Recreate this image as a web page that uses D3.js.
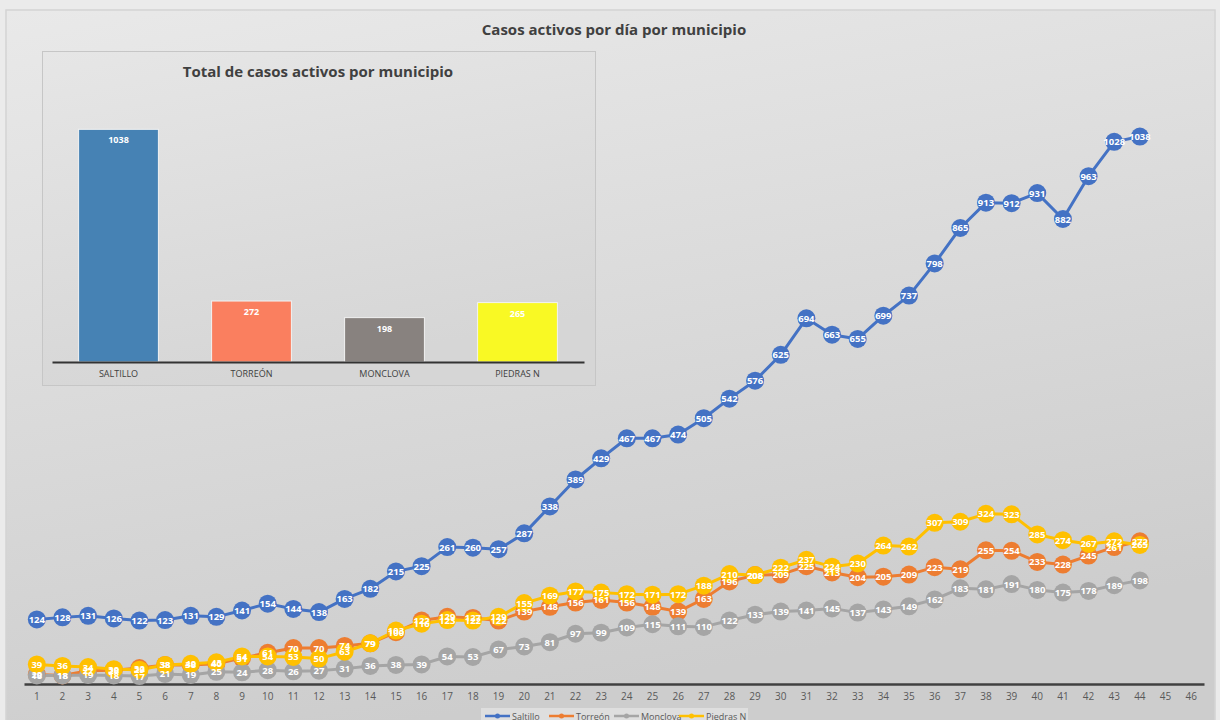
<!DOCTYPE html>
<html>
<head>
<meta charset="utf-8">
<script src="https://cdn.jsdelivr.net/npm/d3@7"></script>
<style>
  body { margin: 0; background: #ebebeb; }
  svg { display: block; }
</style>
</head>
<body>
<div id="chart"></div>
<script>
// Data
const days = d3.range(1, 47)
const seriesNames = ['Saltillo', 'Torreón', 'Monclova', 'Piedras N']
const seriesColors = ['#4472C4', '#ED7D31', '#A5A5A5', '#FFC000']
const saltillo = [124, 128, 131, 126, 122, 123, 131, 129, 141, 154, 144, 138, 163, 182, 215, 225, 261, 260, 257, 287, 338, 389, 429, 467, 467, 474, 505, 542, 576, 625, 694, 663, 655, 699, 737, 798, 865, 913, 912, 931, 882, 963, 1028, 1038]
const torreon = [20, 18, 27, 28, 32, 38, 38, 40, 51, 61, 70, 70, 74, 79, 100, 122, 129, 127, 122, 139, 148, 156, 161, 156, 148, 139, 163, 196, 208, 209, 225, 213, 204, 205, 209, 223, 219, 255, 254, 233, 228, 245, 261, 272]
const monclova = [18, 18, 19, 18, 17, 21, 19, 25, 24, 28, 26, 27, 31, 36, 38, 39, 54, 53, 67, 73, 81, 97, 99, 109, 115, 111, 110, 122, 133, 139, 141, 145, 137, 143, 149, 162, 183, 181, 191, 180, 175, 178, 189, 198]
const piedras = [39, 36, 34, 30, 29, 38, 40, 43, 54, 54, 53, 50, 63, 79, 103, 116, 123, 122, 129, 155, 169, 177, 175, 172, 171, 172, 188, 210, 208, 222, 237, 224, 230, 264, 262, 307, 309, 324, 323, 285, 274, 267, 272, 265]
const allSeries = [saltillo, torreon, monclova, piedras]

const barCategories = ['SALTILLO', 'TORREÓN', 'MONCLOVA', 'PIEDRAS N']
const barValues = [1038, 272, 198, 265]
const barColors = ['#4682B4', '#FA7F5F', '#88827F', '#F9F924']

const W = 1220
const H = 720
const FONT = '"Open Sans", Arial, sans-serif'

const svg = d3.select('#chart')
  .append('svg')
  .attr('width', W)
  .attr('height', H)

const defs = svg.append('defs')
const bg = defs.append('linearGradient').attr('id', 'bg')
  .attr('x1', 0).attr('y1', 0).attr('x2', 0.3).attr('y2', 1)
bg.append('stop').attr('offset', 0).attr('stop-color', '#e9e9e9')
bg.append('stop').attr('offset', 1).attr('stop-color', '#cdcdcd')
const bg2 = defs.append('linearGradient').attr('id', 'bg2')
  .attr('x1', 0).attr('y1', 0).attr('x2', 0.3).attr('y2', 1)
bg2.append('stop').attr('offset', 0).attr('stop-color', '#e6e6e6')
bg2.append('stop').attr('offset', 1).attr('stop-color', '#d6d6d6')

// Outer chart frame
svg.append('rect')
  .attr('x', 6).attr('y', 10).attr('width', 1209).attr('height', 720)
  .attr('fill', 'url(#bg)')
  .attr('stroke', '#d4d4d4').attr('stroke-width', 1.5)

svg.append('text')
  .attr('x', 614).attr('y', 35)
  .attr('text-anchor', 'middle')
  .attr('font-family', FONT)
  .attr('font-weight', 'bold')
  .attr('font-size', 15)
  .attr('fill', '#404040')
  .text('Casos activos por día por municipio')

// Scales for line chart
const x = d3.scaleBand().domain(days).range([24, 1204]).padding(0)
const cx = d => x(d) + x.bandwidth() / 2
const y = d3.scaleLinear().domain([0, 1200]).range([685, 51])

// X axis
const xAxis = svg.append('g')
  .attr('transform', `translate(0, ${y(0) - 1})`)
  .call(d3.axisBottom(x).tickSize(0).tickPadding(9))
xAxis.select('.domain').attr('stroke', '#404040').attr('stroke-width', 2.5)
xAxis.selectAll('text')
  .attr('font-family', FONT)
  .attr('font-size', 10)
  .attr('fill', '#595959')

// Lines
const line = d3.line()
  .x((d, i) => cx(days[i]))
  .y(d => y(d))

allSeries.forEach((s, k) => {
  svg.append('path')
    .datum(s)
    .attr('d', line)
    .attr('fill', 'none')
    .attr('stroke', seriesColors[k])
    .attr('stroke-width', 3)
    .attr('stroke-linejoin', 'round')
})

allSeries.forEach((s, k) => {
  svg.append('g').selectAll('circle')
    .data(s)
    .enter()
    .append('circle')
    .attr('cx', (d, i) => cx(days[i]))
    .attr('cy', d => y(d))
    .attr('r', 9)
    .attr('fill', seriesColors[k])
})

allSeries.forEach(s => {
  svg.append('g').selectAll('text')
    .data(s)
    .enter()
    .append('text')
    .attr('x', (d, i) => cx(days[i]))
    .attr('y', d => y(d) + 3.5)
    .attr('text-anchor', 'middle')
    .attr('font-family', FONT)
    .attr('font-weight', 'bold')
    .attr('font-size', 9.5)
    .attr('fill', '#ffffff')
    .text(d => d)
})

// Legend
svg.append('rect')
  .attr('x', 481).attr('y', 708).attr('width', 267).attr('height', 14)
  .attr('fill', '#dedede')
const legend = svg.append('g')
const legendX = [485, 549, 614, 679]
seriesNames.forEach((n, k) => {
  const g = legend.append('g').attr('transform', `translate(${legendX[k]}, 716)`)
  g.append('line').attr('x1', 0).attr('x2', 25).attr('y1', 0).attr('y2', 0)
    .attr('stroke', seriesColors[k]).attr('stroke-width', 2.5)
  g.append('circle').attr('cx', 12.5).attr('cy', 0).attr('r', 2.5).attr('fill', seriesColors[k])
  g.append('text').attr('x', 27).attr('y', 3.5)
    .attr('font-family', FONT).attr('font-size', 9).attr('fill', '#595959')
    .text(n)
})

// Inset bar chart
const inset = svg.append('g')
inset.append('rect')
  .attr('x', 42.5).attr('y', 51.5).attr('width', 553).attr('height', 334)
  .attr('fill', 'url(#bg2)')
  .attr('stroke', '#c6c6c6').attr('stroke-width', 1)

inset.append('text')
  .attr('x', 318).attr('y', 77)
  .attr('text-anchor', 'middle')
  .attr('font-family', FONT)
  .attr('font-weight', 'bold')
  .attr('font-size', 15)
  .attr('fill', '#404040')
  .text('Total de casos activos por municipio')

const bx = d3.scaleBand().domain(barCategories).range([52, 584]).paddingInner(0.4).paddingOuter(0.2)
const by = d3.scaleLinear().domain([0, 1200]).range([362, 93])

inset.selectAll('rect.bar')
  .data(barValues)
  .enter()
  .append('rect')
  .attr('class', 'bar')
  .attr('x', (d, i) => bx(barCategories[i]))
  .attr('y', d => by(d))
  .attr('width', bx.bandwidth())
  .attr('height', d => by(0) - by(d))
  .attr('fill', (d, i) => barColors[i])
  .attr('stroke', '#f2f2f2').attr('stroke-width', 1)

inset.selectAll('text.val')
  .data(barValues)
  .enter()
  .append('text')
  .attr('class', 'val')
  .attr('x', (d, i) => bx(barCategories[i]) + bx.bandwidth() / 2)
  .attr('y', d => by(d) + 14)
  .attr('text-anchor', 'middle')
  .attr('font-family', FONT)
  .attr('font-weight', 'bold')
  .attr('font-size', 9)
  .attr('fill', '#ffffff')
  .text(d => d)

const bAxis = inset.append('g')
  .attr('transform', `translate(0, ${by(0)})`)
  .call(d3.axisBottom(bx).tickSize(0).tickPadding(9))
bAxis.select('.domain').attr('stroke', '#333333').attr('stroke-width', 2)
bAxis.selectAll('text')
  .attr('font-family', FONT)
  .attr('font-size', 9)
  .attr('fill', '#404040')
</script>
</body>
</html>
